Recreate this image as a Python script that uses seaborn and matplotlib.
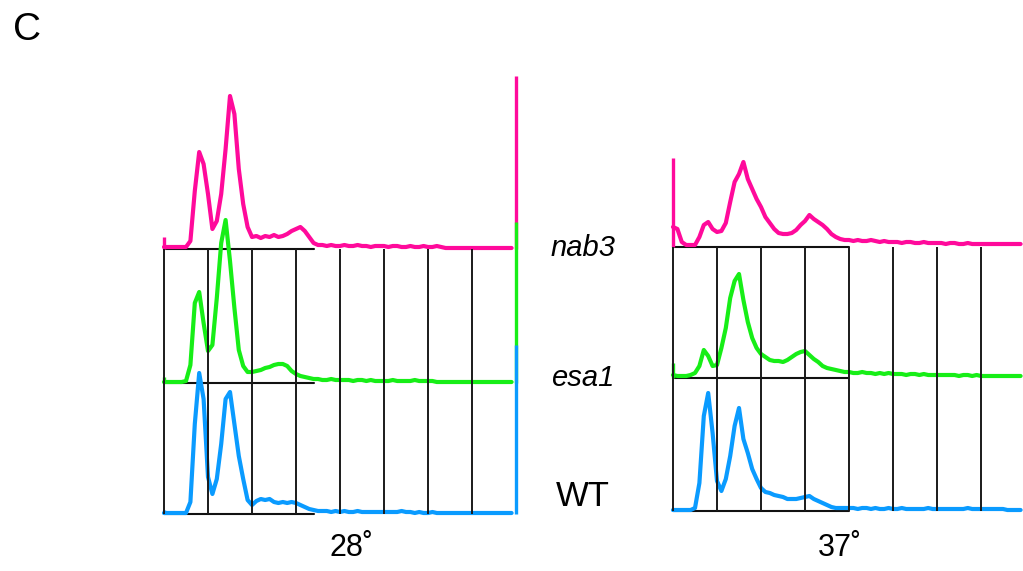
import numpy as np
import pandas as pd
import matplotlib
matplotlib.use("Agg")
import matplotlib.pyplot as plt
import seaborn as sns

# ---------------- data (DNA content histograms, counts per channel bin) ----------------
channels = [round(i * 0.1, 1) for i in range(80)]          # grid units, 0.0 .. 7.9
strains = ["nab3", "esa1", "WT"]
temps = ["28˚", "37˚"]

nab3_28 = [2, 2, 2, 2, 2, 2, 8, 58, 97, 85,
           55, 20, 28, 55, 100, 153, 135, 80, 45, 22,
           12, 13, 11, 13, 12, 14, 12, 13, 15, 18,
           20, 22, 18, 12, 6, 4, 4, 3, 4, 3,
           3, 4, 3, 3, 4, 3, 3, 2, 3, 3,
           3, 2, 3, 3, 2, 2, 3, 2, 2, 3,
           2, 2, 3, 2, 1, 1, 1, 1, 1, 1,
           1, 1, 1, 1, 1, 1, 1, 1, 1, 1]
esa1_28 = [1, 1, 1, 1, 1, 2, 18, 80, 91, 60,
           32, 38, 85, 140, 163, 122, 75, 33, 17, 11,
           11, 12, 13, 15, 16, 18, 19, 19, 17, 12,
           9, 7, 6, 5, 4, 4, 3, 3, 4, 3,
           3, 3, 3, 2, 3, 3, 2, 3, 2, 2,
           2, 2, 3, 2, 2, 2, 2, 3, 2, 2,
           2, 2, 1, 1, 1, 1, 1, 1, 1, 1,
           1, 1, 1, 1, 1, 1, 1, 1, 1, 1]
wt_28 = [1, 1, 1, 1, 1, 1, 12, 90, 141, 115,
         37, 20, 35, 70, 115, 122, 90, 58, 35, 14,
         9, 13, 15, 14, 15, 12, 11, 12, 11, 12,
         11, 9, 7, 5, 4, 3, 3, 3, 2, 3,
         2, 3, 2, 2, 3, 2, 2, 2, 2, 2,
         2, 2, 2, 2, 3, 2, 2, 1, 2, 1,
         1, 2, 1, 1, 1, 1, 1, 1, 1, 1,
         1, 1, 1, 1, 1, 1, 1, 1, 1, 1]

nab3_37 = [20, 18, 5, 2, 2, 2, 10, 22, 25, 18,
           15, 16, 24, 45, 65, 73, 85, 68, 58, 48,
           40, 30, 24, 18, 14, 13, 13, 14, 17, 22,
           26, 32, 28, 25, 22, 18, 13, 10, 8, 7,
           7, 6, 7, 6, 6, 7, 6, 5, 6, 5,
           5, 5, 4, 5, 5, 4, 4, 5, 4, 4,
           4, 4, 3, 4, 4, 3, 3, 4, 3, 3,
           3, 3, 3, 3, 3, 3, 3, 3, 3, 3]
esa1_37 = [3, 2, 2, 2, 3, 5, 12, 28, 22, 12,
           13, 30, 50, 80, 97, 104, 78, 56, 40, 30,
           24, 21, 18, 17, 17, 16, 18, 21, 24, 26,
           27, 23, 19, 16, 12, 10, 9, 8, 7, 6,
           6, 5, 5, 6, 5, 5, 4, 5, 4, 5,
           4, 4, 4, 3, 4, 4, 3, 4, 3, 3,
           3, 3, 3, 3, 3, 2, 3, 3, 2, 3,
           2, 2, 2, 2, 2, 2, 2, 2, 2, 2]
wt_37 = [1, 1, 1, 1, 1, 3, 28, 95, 118, 78,
         30, 20, 32, 55, 85, 103, 72, 58, 42, 32,
         23, 19, 18, 16, 15, 14, 12, 12, 12, 13,
         14, 15, 12, 10, 8, 6, 4, 3, 3, 3,
         3, 3, 2, 3, 3, 2, 3, 2, 2, 3,
         2, 2, 3, 2, 2, 2, 2, 2, 3, 2,
         2, 2, 2, 2, 2, 2, 2, 3, 2, 2,
         2, 2, 2, 2, 2, 2, 1, 1, 1, 1]

# first (underflow) and last (overflow) channel counts, order nab3, esa1, WT
first_bin_28 = [12, 6, 4]
last_bin_28 = [173, 161, 169]
first_bin_37 = [89, 15, 2]

# ---------------- style ----------------
colors = {"nab3": "#FF0A9B", "esa1": "#17EE17", "WT": "#0A9BFF"}
offsets_28 = {"nab3": 265, "esa1": 131, "WT": 0}
offsets_37 = {"nab3": 264, "esa1": 133, "WT": 0}

sns.set_theme(style="white")
plt.rcParams["font.family"] = ["Liberation Sans", "DejaVu Sans"]

W, H = 1023, 571
fig = plt.figure(figsize=(W / 100, H / 100), dpi=100)
fig.patch.set_facecolor("white")

PX = 44.0  # pixels per grid unit


def make_axes(x0_px, base_px, xlo, xhi, ylo=-8, yhi=448):
    left = x0_px + xlo * PX
    width = (xhi - xlo) * PX
    bottom_px = base_px - ylo
    height = yhi - ylo
    ax = fig.add_axes([left / W, (H - bottom_px) / H, width / W, height / H])
    ax.set_xlim(xlo, xhi)
    ax.set_ylim(ylo, yhi)
    ax.axis("off")
    return ax


def draw_panel(ax, series, offsets, first_bins, last_bins, base_len):
    top = offsets["nab3"]
    # black baseline segments (beneath curves)
    for s in strains:
        ax.plot([0, base_len], [offsets[s], offsets[s]], color="#111111", lw=1.5, zorder=1)
    rows = []
    for s in strains:
        for c, v in zip(channels, series[s]):
            rows.append({"channel": c, "y": v + offsets[s], "strain": s})
    df = pd.DataFrame(rows)
    sns.lineplot(data=df, x="channel", y="y", hue="strain", hue_order=strains,
                 palette=colors, estimator=None, sort=False, legend=False,
                 linewidth=3.0, ax=ax, zorder=2)
    # first / last channel spikes
    for s, fb in zip(strains, first_bins):
        ax.vlines(0.0, offsets[s], offsets[s] + fb, color=colors[s], lw=2.4, zorder=2)
    if last_bins is not None:
        for i, (s, lb) in enumerate(zip(strains, last_bins)):
            ax.vlines(8.0, offsets[s], offsets[s] + lb, color=colors[s], lw=2.4,
                      zorder=3 + i * 0.1)
    # vertical grid lines (on top)
    ax.vlines(range(0, 8), 0, top, color="#1a1a1a", lw=1.4, zorder=5)


ax28 = make_axes(164, 514, -0.12, 8.12)
draw_panel(ax28, {"nab3": nab3_28, "esa1": esa1_28, "WT": wt_28},
           offsets_28, first_bin_28, last_bin_28, 3.4)

ax37 = make_axes(673, 511, -0.12, 8.0)
draw_panel(ax37, {"nab3": nab3_37, "esa1": esa1_37, "WT": wt_37},
           offsets_37, first_bin_37, None, 4.0)

# ---------------- texts ----------------
def ftext(x, y, s, **kw):
    fig.text(x / W, 1 - y / H, s, ha="center", va="center", color="black", **kw)

ftext(27, 30, "C", fontsize=28)
ftext(583, 248, "nab3", fontsize=21, style="italic")
ftext(583, 378, "esa1", fontsize=21, style="italic")
ftext(583, 496, "WT", fontsize=25)
ftext(352, 548, temps[0], fontsize=22)
ftext(840, 548, temps[1], fontsize=22)

fig.savefig("out.png", dpi=100, facecolor="white")
